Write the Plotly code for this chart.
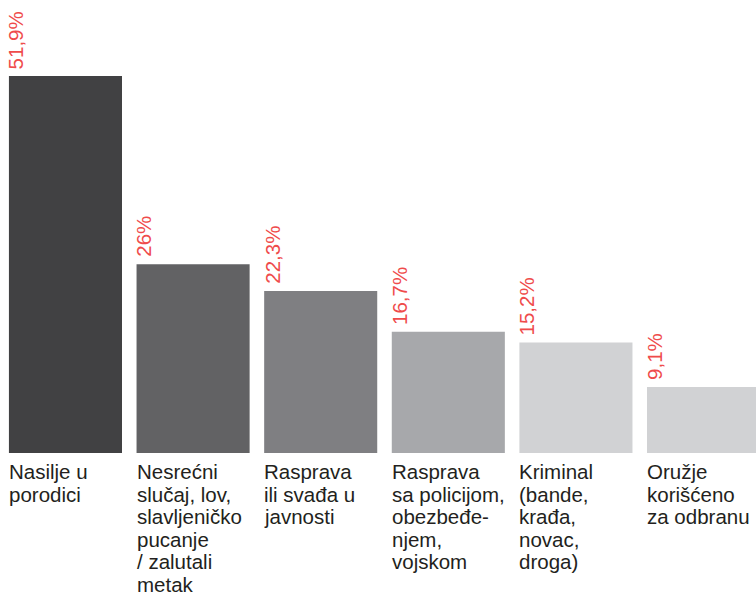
import plotly.graph_objects as go

categories = [
    "Nasilje u<br>porodici",
    "Nesrećni<br>slučaj, lov,<br>slavljeničko<br>pucanje<br>/ zalutali<br>metak",
    "Rasprava<br>ili svađa u<br>javnosti",
    "Rasprava<br>sa policijom,<br>obezbeđe-<br>njem,<br>vojskom",
    "Kriminal<br>(bande,<br>krađa,<br>novac,<br>droga)",
    "Oružje<br>korišćeno<br>za odbranu",
]
values = [51.9, 26.0, 22.3, 16.7, 15.2, 9.1]
value_labels = ["51,9%", "26%", "22,3%", "16,7%", "15,2%", "9,1%"]
bar_colors = ["#414143", "#626264", "#7f7f82", "#a7a8ab", "#d1d2d4", "#d1d2d4"]

FONT = "Liberation Sans, Arial, Helvetica, sans-serif"
FS = 20.5
LINE = 22.6
W = 0.886
xs = list(range(len(values)))

fig = go.Figure(go.Bar(
    x=xs, y=values, width=W,
    marker=dict(color=bar_colors, line=dict(width=0)),
    hoverinfo="skip",
))

ann = []
for i, (v, lab, cat) in enumerate(zip(values, value_labels, categories)):
    ann.append(dict(
        x=i - W / 2, y=v, xref="x", yref="y", text=lab, showarrow=False,
        textangle=-90, xanchor="left", yanchor="bottom", yshift=6, xshift=-5,
        borderpad=0,
        font=dict(family=FONT, size=FS, color="#ef4b4b"),
    ))
    for k, line in enumerate(cat.split("<br>")):
        ann.append(dict(
            x=i - W / 2, y=0, xref="x", yref="y", text=line, showarrow=False,
            xanchor="left", yanchor="top", align="left",
            yshift=-6 - k * LINE, xshift=-1, borderpad=0,
            font=dict(family=FONT, size=FS, color="#231f20"),
        ))

fig.update_layout(
    width=756, height=599,
    margin=dict(l=0, r=0, t=0, b=146),
    paper_bgcolor="white", plot_bgcolor="white",
    showlegend=False,
    xaxis=dict(range=[-0.513, 5.411], visible=False, fixedrange=True),
    yaxis=dict(range=[0, 62.36], visible=False, fixedrange=True),
    annotations=ann,
)
fig.write_html(
    "out.html",
    config={"displayModeBar": False, "staticPlot": True},
    post_script="document.body.style.margin='0';document.body.style.overflow='hidden';",
)
